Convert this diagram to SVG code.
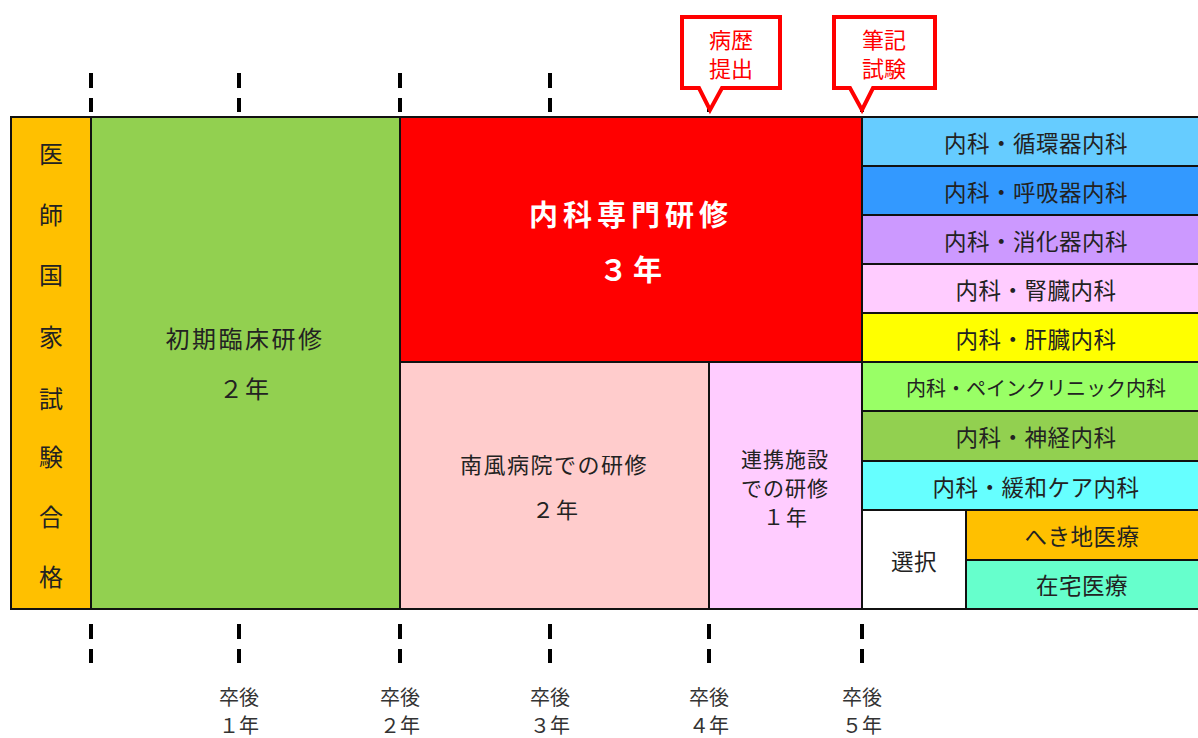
<svg xmlns="http://www.w3.org/2000/svg" width="1198" height="738" viewBox="0 0 1198 738">
<style>
text{font-family:"Noto Sans CJK JP","Noto Sans",sans-serif;fill:#222;text-anchor:middle;dominant-baseline:central}
.box{stroke:#111;stroke-width:2}
.tick{stroke:#000;stroke-width:4;stroke-dasharray:15 10}
.call{fill:#fff;stroke:#f00;stroke-width:4;stroke-linejoin:miter}
.ct{fill:#f00;font-size:22px}
.r{font-size:22.5px;letter-spacing:0.5px}
.lc{font-size:24px}
.yr{font-size:20px;fill:#333}
</style>
<rect width="1198" height="738" fill="#fff"/>
<g id="ticks">
<line class="tick" x1="91" y1="73" x2="91" y2="112"/>
<line class="tick" x1="239" y1="73" x2="239" y2="112"/>
<line class="tick" x1="400" y1="73" x2="400" y2="112"/>
<line class="tick" x1="550" y1="73" x2="550" y2="112"/>
<line class="tick" x1="709" y1="73" x2="709" y2="112"/>
<line class="tick" x1="862" y1="73" x2="862" y2="112"/>
<line class="tick" x1="91" y1="624" x2="91" y2="663"/>
<line class="tick" x1="239" y1="624" x2="239" y2="663"/>
<line class="tick" x1="400" y1="624" x2="400" y2="663"/>
<line class="tick" x1="550" y1="624" x2="550" y2="663"/>
<line class="tick" x1="709" y1="624" x2="709" y2="663"/>
<line class="tick" x1="862" y1="624" x2="862" y2="663"/>
</g>
<g id="pass">
<rect class="box" x="11" y="117" width="80" height="492" fill="#FFC000"/>
<text class="lc" x="51" y="152">医</text>
<text class="lc" x="51" y="213">師</text>
<text class="lc" x="51" y="273">国</text>
<text class="lc" x="51" y="335">家</text>
<text class="lc" x="51" y="397">試</text>
<text class="lc" x="51" y="455">験</text>
<text class="lc" x="51" y="515">合</text>
<text class="lc" x="51" y="575">格</text>
</g>
<g id="initial">
<rect class="box" x="91" y="117" width="309" height="492" fill="#92D050"/>
<text x="245" y="337" style="font-size:24px;letter-spacing:2.5px">初期臨床研修</text>
<text x="245" y="387" style="font-size:24px;letter-spacing:2px">２年</text>
</g>
<g id="specialty">
<rect class="box" x="400" y="117" width="462" height="245" fill="#FF0000"/>
<text x="631" y="213" style="font-size:29px;font-weight:bold;fill:#fff;letter-spacing:5px">内科専門研修</text>
<text x="633" y="268" style="font-size:29px;font-weight:bold;fill:#fff;letter-spacing:5px">３年</text>
</g>
<g id="haenohospital">
<rect class="box" x="400" y="362" width="309" height="247" fill="#FFCCCC"/>
<text x="554" y="463" style="font-size:22px;letter-spacing:1.5px">南風病院での研修</text>
<text x="556" y="508" style="font-size:22px;letter-spacing:2px">２年</text>
</g>
<g id="partner">
<rect class="box" x="709" y="362" width="153" height="247" fill="#FFCCFF"/>
<text x="785" y="458" style="font-size:21px;letter-spacing:1px">連携施設</text>
<text x="785" y="487" style="font-size:21px;letter-spacing:1px">での研修</text>
<text x="786" y="516" style="font-size:21px;letter-spacing:2px">１年</text>
</g>
<g id="courses">
<rect class="box" x="862" y="117" width="340" height="49" fill="#66CCFF"/>
<text class="r" x="1036" y="142">内科・循環器内科</text>
<rect class="box" x="862" y="166" width="340" height="49" fill="#3399FF"/>
<text class="r" x="1036" y="191">内科・呼吸器内科</text>
<rect class="box" x="862" y="215" width="340" height="49" fill="#CC99FF"/>
<text class="r" x="1036" y="240">内科・消化器内科</text>
<rect class="box" x="862" y="264" width="340" height="49" fill="#FFCCFF"/>
<text class="r" x="1036" y="289">内科・腎臓内科</text>
<rect class="box" x="862" y="313" width="340" height="49" fill="#FFFF00"/>
<text class="r" x="1036" y="338">内科・肝臓内科</text>
<rect class="box" x="862" y="362" width="340" height="49" fill="#99FF66"/>
<text x="1036" y="387" style="font-size:20px">内科・ペインクリニック内科</text>
<rect class="box" x="862" y="411" width="340" height="50" fill="#92D050"/>
<text class="r" x="1036" y="436">内科・神経内科</text>
<rect class="box" x="862" y="461" width="340" height="49" fill="#66FFFF"/>
<text class="r" x="1036" y="486">内科・緩和ケア内科</text>
</g>
<g id="select">
<rect class="box" x="862" y="510" width="104" height="99" fill="#fff"/>
<text class="r" x="914" y="560">選択</text>
<rect class="box" x="966" y="510" width="236" height="50" fill="#FFC000"/>
<text class="r" x="1082" y="535">へき地医療</text>
<rect class="box" x="966" y="560" width="236" height="49" fill="#66FFCC"/>
<text class="r" x="1082" y="584">在宅医療</text>
</g>
<g id="callout-history">
<path class="call" d="M682,17 H780 V88 H722 L710,110 L699,88 H682 Z"/>
<text class="ct" x="731" y="38">病歴</text>
<text class="ct" x="731" y="67">提出</text>
</g>
<g id="callout-exam">
<path class="call" d="M834,17 H935 V88 H873 L862,110 L850,88 H834 Z"/>
<text class="ct" x="884" y="38">筆記</text>
<text class="ct" x="884" y="67">試験</text>
</g>
<g id="years">
<text class="yr" x="239" y="696">卒後</text>
<text class="yr" x="239" y="724">１年</text>
<text class="yr" x="400" y="696">卒後</text>
<text class="yr" x="400" y="724">２年</text>
<text class="yr" x="550" y="696">卒後</text>
<text class="yr" x="550" y="724">３年</text>
<text class="yr" x="709" y="696">卒後</text>
<text class="yr" x="709" y="724">４年</text>
<text class="yr" x="862" y="696">卒後</text>
<text class="yr" x="862" y="724">５年</text>
</g>
</svg>
